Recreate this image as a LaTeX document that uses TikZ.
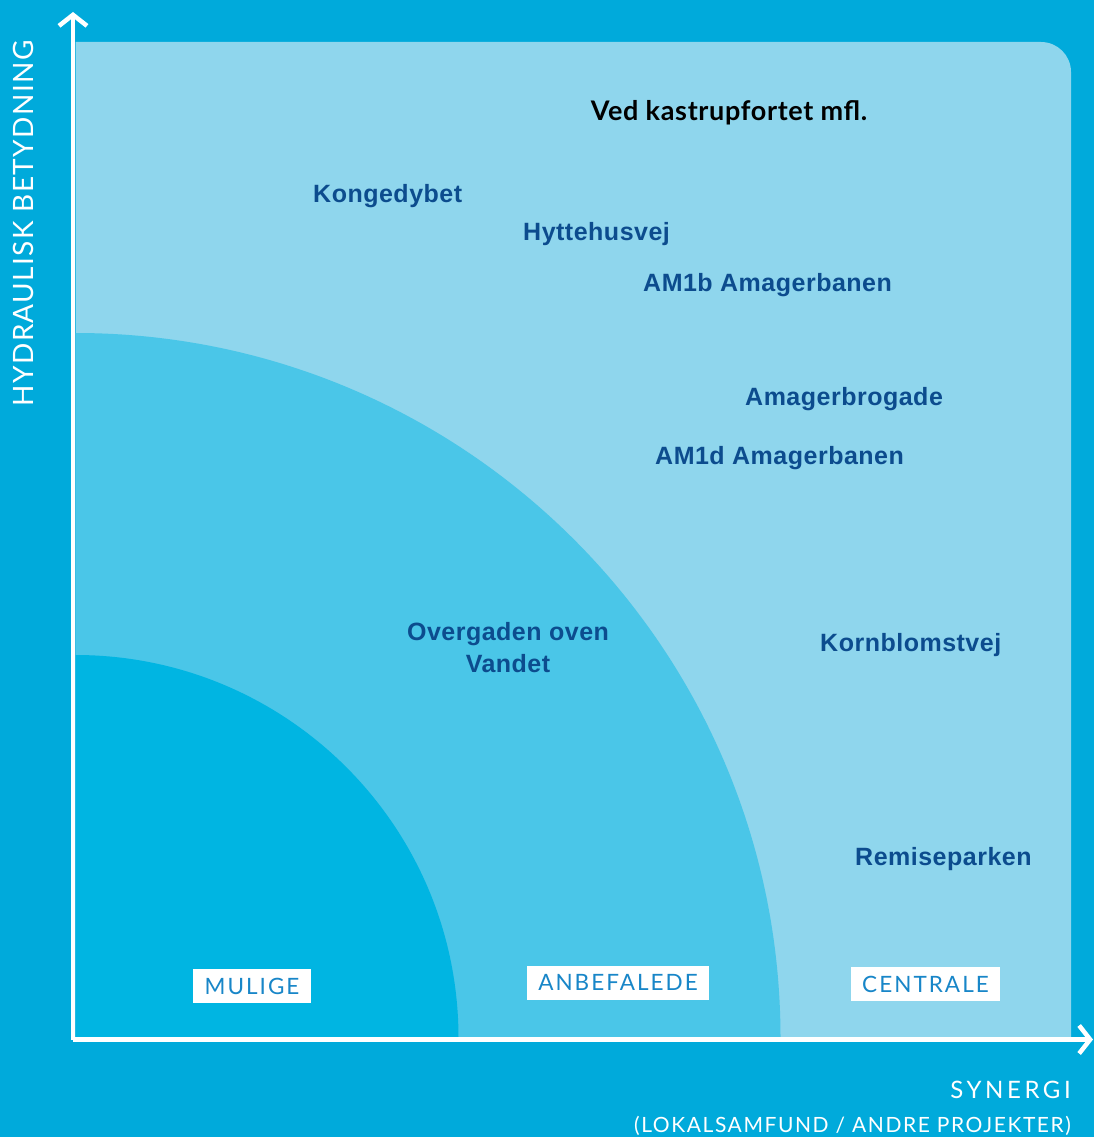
\documentclass[tikz,border=0pt]{standalone}
\usepackage{fontspec}
\setmainfont{Liberation Sans}
\newfontfamily\gillfont{Lato}
\newfontfamily\projfont[LetterSpace=2]{Liberation Sans}
\usetikzlibrary{arrows.meta}

\definecolor{bgblue}{RGB}{0,170,219}
\definecolor{panelblue}{RGB}{143,214,237}
\definecolor{midblue}{RGB}{74,198,232}
\definecolor{innerblue}{RGB}{0,181,226}
\definecolor{labelblue}{RGB}{12,76,142}
\definecolor{zoneblue}{RGB}{24,134,200}

\begin{document}
\begin{tikzpicture}[
    x=1pt, y=-1pt, % one unit per pixel, y running down
    axis/.style={draw=white, line width=4.5pt,
        -{Straight Barb[length=11pt,width=28pt,line width=4.5pt]}},
    project/.style={anchor=base west, inner sep=0pt, text=labelblue,
        font=\projfont\bfseries\fontsize{25}{32}\selectfont},
    zone/.style={fill=white, text=zoneblue, inner xsep=11.5pt,
        minimum height=34pt,
        font=\gillfont\addfontfeature{LetterSpace=9}\fontsize{22.5}{24}\selectfont},
    axislabel/.style={inner sep=0pt, text=white}
]
  % background
  \fill[bgblue] (0,0) rectangle (1094,1137);
  \useasboundingbox (0,0) rectangle (1094,1137);

  % panel with the round top right corner
  \fill[panelblue] (75.5,1038) -- (75.5,42) -- (1041,42)
    arc[start angle=90, end angle=0, radius=30pt] -- (1071,1038) -- cycle;

  % the two quarter circles
  \coordinate (o) at (75.5,1038);
  \fill[midblue] (o) -- ++(705,0) arc[start angle=0, end angle=90, radius=705pt] -- cycle;
  \fill[innerblue] (o) -- ++(383,0) arc[start angle=0, end angle=90, radius=383pt] -- cycle;

  % axes
  \coordinate (origin) at (73,1039.5);
  \coordinate (ytop) at (73,12);
  \coordinate (xend) at (1093,1039.5);
  \draw[axis] (origin) -- (ytop);
  \draw[axis] (origin) -- (xend);

  \node[axislabel, rotate=90,
    font=\gillfont\addfontfeature{LetterSpace=5}\fontsize{28}{30}\selectfont]
    (ylab) at (23,223.5) {HYDRAULISK BETYDNING};
  \node[axislabel, anchor=base east,
    font=\gillfont\addfontfeature{LetterSpace=15}\fontsize{24}{26}\selectfont]
    (xlab) at (1071,1098) {SYNERGI};
  \node[axislabel, anchor=base east,
    font=\gillfont\addfontfeature{LetterSpace=7.5}\fontsize{21}{24}\selectfont]
    (xsub) at (1071,1132) {(LOKALSAMFUND / ANDRE PROJEKTER)};

  % zones
  \node[zone] (mulige) at (252,986) {MULIGE};
  \node[zone] (anbefalede) at (618,982.5) {ANBEFALEDE};
  \node[zone] (centrale) at (925.5,984) {CENTRALE};

  % projects
  \node[anchor=base, inner sep=0pt,
    font=\gillfont\addfontfeature{LetterSpace=2.5}\bfseries\fontsize{27}{30}\selectfont]
    (kastrup) at (729,121) {Ved kastrupfortet mfl.};
  \node[project] (kongedybet) at (313,202) {Kongedybet};
  \node[project] (hyttehusvej) at (523,240) {Hyttehusvej};
  \node[project] (am1b) at (643,291) {AM1b Amagerbanen};
  \node[project] (amagerbrogade) at (745,405) {Amagerbrogade};
  \node[project] (am1d) at (655,464) {AM1d Amagerbanen};
  \node[project, anchor=center, align=center] (overgaden) at (508,648)
    {Overgaden oven\\Vandet};
  \node[project] (kornblomstvej) at (820,651) {Kornblomstvej};
  \node[project] (remiseparken) at (855,865) {Remiseparken};
\end{tikzpicture}
\end{document}
